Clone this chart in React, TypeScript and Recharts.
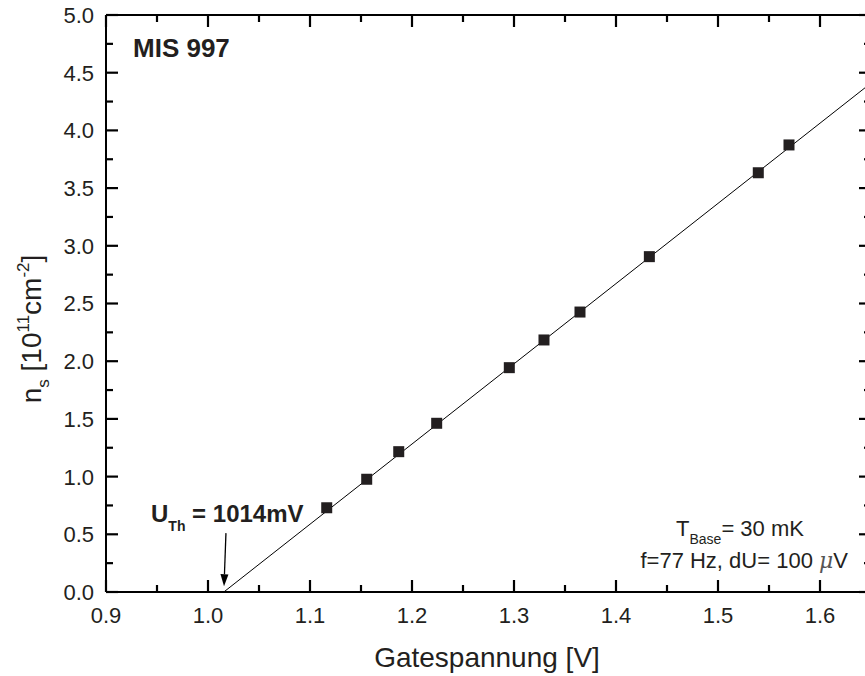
import { ScatterChart, Scatter, XAxis, YAxis, ReferenceLine, Customized } from 'recharts';

// measured points: gate voltage [V] vs carrier density [1e11 cm^-2]
const gateVoltage = [1.1164, 1.1556, 1.187, 1.2242, 1.2954, 1.3294, 1.3647, 1.4327, 1.5395, 1.5696];
const density = [0.73, 0.977, 1.216, 1.462, 1.944, 2.184, 2.426, 2.906, 3.633, 3.874];

// linear fit, starts at the threshold voltage
const fitVoltage = [1.0155, 1.65];
const fitDensity = [0, 4.41];

// arrow pointing at U_Th
const arrowVoltage = [1.0176, 1.0157];
const arrowDensity = [0.51, 0.05];

const xTicks = [0.9, 0.95, 1.0, 1.05, 1.1, 1.15, 1.2, 1.25, 1.3, 1.35, 1.4, 1.45, 1.5, 1.55, 1.6];
const xMajor = [0.9, 1.0, 1.1, 1.2, 1.3, 1.4, 1.5, 1.6];
const yTicks = [0, 0.25, 0.5, 0.75, 1, 1.25, 1.5, 1.75, 2, 2.25, 2.5, 2.75, 3, 3.25, 3.5, 3.75, 4, 4.25, 4.5, 4.75, 5];
const yMajor = [0, 0.5, 1, 1.5, 2, 2.5, 3, 3.5, 4, 4.5, 5];

const X_MIN = 0.9;
const X_MAX = 1.65;
const Y_MIN = 0;
const Y_MAX = 5;

const points = gateVoltage.map((v, i) => ({ x: v, y: density[i] }));
const fit = fitVoltage.map((v, i) => ({ x: v, y: fitDensity[i] }));

// anchor points of the inward tick marks on the four frame sides
const leftTicks = yTicks.map((v) => ({ x: X_MIN, y: v }));
const rightTicks = yTicks.map((v) => ({ x: X_MAX, y: v }));
const bottomTicks = xTicks.map((v) => ({ x: v, y: Y_MIN }));
const topTicks = xTicks.map((v) => ({ x: v, y: Y_MAX }));

const FONT = '"Liberation Sans", Arial, sans-serif';
const INK = '#231f20';
const MAJOR = 12;
const MINOR = 7;
const isMajor = (v: number, list: number[]) => list.some((m) => Math.abs(m - v) < 1e-6);

const LeftLabel = (props: any) => {
  const { x, y, payload } = props;
  return (
    <text x={x} y={y} dy="0.36em" textAnchor="end" fontSize={22} fontFamily={FONT} fill={INK}>
      {payload.value.toFixed(1)}
    </text>
  );
};

const BottomLabel = (props: any) => {
  const { x, y, payload } = props;
  return (
    <text x={x} y={y + 16} textAnchor="middle" fontSize={22} fontFamily={FONT} fill={INK}>
      {payload.value.toFixed(1)}
    </text>
  );
};

const tickPath = (d: string) => <path d={d} stroke="#000" strokeWidth={2.2} fill="none" />;

const LeftTick = (props: any) =>
  tickPath(`M${props.cx},${props.cy}h${isMajor(props.payload.y, yMajor) ? MAJOR : MINOR}`);
const RightTick = (props: any) =>
  tickPath(`M${props.cx},${props.cy}h${-(isMajor(props.payload.y, yMajor) ? MAJOR : MINOR)}`);
const BottomTick = (props: any) =>
  tickPath(`M${props.cx},${props.cy}v${-(isMajor(props.payload.x, xMajor) ? MAJOR : MINOR)}`);
const TopTick = (props: any) =>
  tickPath(`M${props.cx},${props.cy}v${isMajor(props.payload.x, xMajor) ? MAJOR : MINOR}`);

const Square = (props: any) => (
  <rect x={props.cx - 5.5} y={props.cy - 5.5} width={11} height={11} fill={INK} />
);

const Arrow = (props: any) => {
  const { x1, y1, x2, y2 } = props;
  const len = Math.hypot(x2 - x1, y2 - y1);
  const ux = (x2 - x1) / len;
  const uy = (y2 - y1) / len;
  const bx = x2 - ux * 12;
  const by = y2 - uy * 12;
  return (
    <g>
      <line x1={x1} y1={y1} x2={bx} y2={by} stroke="#000" strokeWidth={1.3} />
      <polygon
        points={`${x2},${y2} ${bx - uy * 4},${by + ux * 4} ${bx + uy * 4},${by - ux * 4}`}
        fill="#000"
      />
    </g>
  );
};

const Annotations = () => (
  <g fontFamily={FONT} fill={INK}>
    <text x={133} y={57} fontSize={26} fontWeight="bold">MIS 997</text>
    <text x={151} y={522} fontSize={24} fontWeight="bold">
      U<tspan fontSize={14} dy={9}>Th</tspan>
      <tspan dy={-9}> = 1014mV</tspan>
    </text>
    <text x={676} y={536} fontSize={22}>
      T<tspan fontSize={14} dy={8}>Base</tspan>
      <tspan dy={-8}>= 30 mK</tspan>
    </text>
    <text x={848} y={568} fontSize={22} textAnchor="end">
      f=77 Hz, dU= 100 <tspan fontStyle="italic" fontFamily='"DejaVu Serif", serif' fill="#555">μ</tspan>V
    </text>
    <text x={487} y={667} fontSize={28} textAnchor="middle">Gatespannung [V]</text>
    <text x={41} y={329} fontSize={28} textAnchor="middle" transform="rotate(-90 41 329)">
      n<tspan fontSize={17} dy={8}>s</tspan>
      <tspan dy={-8}> [10</tspan>
      <tspan fontSize={17} dy={-12}>11</tspan>
      <tspan dy={12}>cm</tspan>
      <tspan fontSize={17} dy={-12}>-2</tspan>
      <tspan dy={12}>]</tspan>
    </text>
  </g>
);

const none = () => <g />;

export default function App() {
  const frame = { stroke: '#000', strokeWidth: 2 };
  return (
    <div style={{ position: 'absolute', left: 0, top: 0, background: '#fff' }}>
      <ScatterChart width={890} height={676} margin={{ top: 15, right: 19, bottom: 0, left: 0 }}>
        <XAxis
          dataKey="x"
          type="number"
          domain={[X_MIN, X_MAX]}
          ticks={xMajor}
          interval={0}
          height={84}
          tickSize={0}
          tickMargin={15}
          tickLine={false}
          axisLine={frame}
          tick={BottomLabel}
        />
        <YAxis
          dataKey="y"
          type="number"
          domain={[Y_MIN, Y_MAX]}
          ticks={yMajor}
          interval={0}
          width={106}
          tickSize={0}
          tickMargin={12}
          tickLine={false}
          axisLine={frame}
          tick={LeftLabel}
        />
        <Scatter data={leftTicks} shape={LeftTick} isAnimationActive={false} />
        <Scatter data={rightTicks} shape={RightTick} isAnimationActive={false} />
        <Scatter data={bottomTicks} shape={BottomTick} isAnimationActive={false} />
        <Scatter data={topTicks} shape={TopTick} isAnimationActive={false} />
        <Scatter
          data={fit}
          line={{ stroke: '#000', strokeWidth: 1 }}
          shape={none}
          isAnimationActive={false}
        />
        <Scatter data={points} shape={Square} isAnimationActive={false} />
        <ReferenceLine segment={[{ x: X_MIN, y: Y_MAX }, { x: X_MAX, y: Y_MAX }]} stroke="#000" strokeWidth={2} ifOverflow="visible" />
        <ReferenceLine segment={[{ x: X_MAX, y: Y_MIN }, { x: X_MAX, y: Y_MAX }]} stroke="#000" strokeWidth={2} ifOverflow="visible" />
        <ReferenceLine
          segment={[
            { x: arrowVoltage[0], y: arrowDensity[0] },
            { x: arrowVoltage[1], y: arrowDensity[1] },
          ]}
          shape={Arrow}
        />
        <Customized component={Annotations} />
      </ScatterChart>
    </div>
  );
}
